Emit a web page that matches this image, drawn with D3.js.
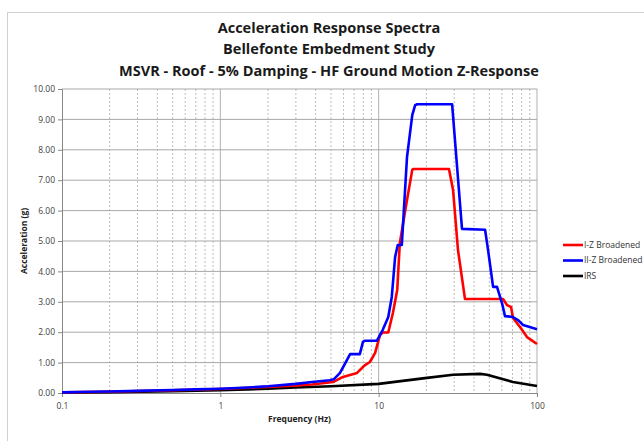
<!DOCTYPE html>
<html>
<head>
<meta charset="utf-8">
<script src="https://cdn.jsdelivr.net/npm/d3@7"></script>
<style>
  body { margin: 0; background: #fff; }
  text { font-family: "Open Sans", "Liberation Sans", sans-serif; }
</style>
</head>
<body>
<div id="chart"></div>
<script>
// chart titles
const titles = ["Acceleration Response Spectra",
                "Bellefonte Embedment Study",
                "MSVR - Roof - 5% Damping - HF Ground Motion Z-Response"];

// series: [frequency Hz, acceleration g]
const iZBroadened = [[0.1,0.02],[0.2,0.04],[0.5,0.09],[1,0.13],[2,0.2],[3,0.25],[3.8,0.28],
  [5.15,0.36],[5.95,0.53],[7.3,0.66],[8.2,0.92],[8.8,1.02],[9.5,1.32],[10.2,1.91],[10.6,1.99],
  [11.5,1.99],[12.3,2.63],[13.1,3.39],[13.6,4.93],[15.1,6.35],[16.3,7.34],[16.5,7.37],[27.8,7.37],
  [29.5,6.68],[31.7,4.7],[35.1,3.09],[61,3.09],[64.7,2.89],[68.6,2.83],[70.5,2.47],[78.1,2.17],
  [86.5,1.84],[100,1.61]];
const iiZBroadened = [[0.1,0.02],[0.15,0.04],[0.2,0.05],[0.3,0.07],[0.5,0.1],[0.7,0.12],[1,0.14],
  [1.5,0.18],[2,0.22],[3,0.3],[3.8,0.36],[4.9,0.42],[5.2,0.45],[5.7,0.66],[6.3,1.08],[6.6,1.28],
  [7.6,1.28],[7.96,1.68],[8.2,1.72],[9.75,1.72],[10.6,2.07],[11.5,2.5],[12.1,3.16],[12.7,4.47],
  [13.2,4.87],[14.0,4.87],[15.1,7.76],[16.3,9.14],[17.0,9.47],[17.5,9.5],[29.1,9.5],[33.6,5.4],
  [47,5.37],[49.1,4.7],[52.8,3.49],[55.9,3.49],[60.1,2.96],[62.8,2.53],[70.5,2.5],[75.8,2.4],
  [81.6,2.24],[100,2.1]];
const irs = [[0.1,0.01],[0.2,0.03],[0.5,0.06],[1,0.09],[2,0.14],[3,0.18],[5,0.22],[10,0.3],
  [19.6,0.49],[29.5,0.6],[43.7,0.63],[48.3,0.6],[70.5,0.36],[100,0.23]];

const seriesNames = ["I-Z Broadened", "II-Z Broadened", "IRS"];
const seriesColors = ["#ff0000", "#0000ff", "#000000"];
const xTickValues = [0.1, 1, 10, 100];
const xTickLabels = ["0.1", "1", "10", "100"];
const yTickValues = [0,1,2,3,4,5,6,7,8,9,10];

const W = 644, H = 441;
const margin = {top: 89, right: 107, bottom: 48, left: 62},
  width = W - margin.left - margin.right,
  height = H - margin.top - margin.bottom;

const svg = d3.select("#chart").append("svg")
  .attr("width", W).attr("height", H);

// outer chart border
svg.append("rect")
  .attr("x", 7.5).attr("y", 12.5)
  .attr("width", 660).attr("height", 460)
  .attr("fill", "none").attr("stroke", "#d0d0d0");

// titles: one size for all, fitted so the long line matches the picture
const titleY = [33, 54, 76];
const titleText = svg.selectAll(".title").data(titles).join("text")
  .attr("class", "title")
  .attr("x", 329).attr("y", (d, i) => titleY[i])
  .attr("text-anchor", "middle")
  .style("font-weight", "bold").style("font-size", "16px")
  .attr("fill", "#1a1a1a")
  .text(d => d);
const longLen = titleText.nodes()[2].getComputedTextLength();
titleText.style("font-size", (16 * 420 / longLen).toFixed(2) + "px");

const g = svg.append("g").attr("transform", `translate(${margin.left},${margin.top})`);

const x = d3.scaleLog().domain([0.1, 100]).range([0, width]);
const y = d3.scaleLinear().domain([0, 10]).range([height, 0]);

// vertical grid: minor dashed, decades solid
const minor = [];
for (let d = 0.1; d < 100; d *= 10)
  for (let k = 2; k <= 9; k++) minor.push(+(d * k).toPrecision(3));
g.append("g").selectAll("line").data(minor).join("line")
  .attr("x1", d => x(d)).attr("x2", d => x(d))
  .attr("y1", 0).attr("y2", height)
  .attr("stroke", "#bdbdbd").attr("stroke-dasharray", "2,2");
g.append("g").selectAll("line").data([1, 10, 100]).join("line")
  .attr("x1", d => x(d)).attr("x2", d => x(d))
  .attr("y1", 0).attr("y2", height)
  .attr("stroke", "#b0b0b0");

// horizontal grid
g.append("g").selectAll("line").data(yTickValues.slice(1)).join("line")
  .attr("x1", 0).attr("x2", width)
  .attr("y1", d => y(d)).attr("y2", d => y(d))
  .attr("stroke", "#a8a8a8");

// axes
const yAxis = g.append("g")
  .call(d3.axisLeft(y).tickValues(yTickValues).tickFormat(d3.format(".2f")).tickSize(4).tickPadding(3));
const xAxis = g.append("g").attr("transform", `translate(0,${height})`)
  .call(d3.axisBottom(x).tickValues(xTickValues).tickFormat((d, i) => xTickLabels[i]).tickSize(4).tickPadding(6));
[yAxis, xAxis].forEach(a => {
  a.select(".domain").attr("stroke", "#888");
  a.selectAll(".tick line").attr("stroke", "#888");
  a.selectAll(".tick text").attr("fill", "#404040")
    .style("font-size", "8.5px").style("font-family", "Open Sans, sans-serif");
});

// axis titles
svg.append("text")
  .attr("x", margin.left + width / 2).attr("y", 422)
  .attr("text-anchor", "middle")
  .style("font-weight", "bold").style("font-size", "8.5px").attr("fill", "#222")
  .text("Frequency (Hz)");
svg.append("text")
  .attr("transform", `translate(27,${margin.top + height / 2}) rotate(-90)`)
  .attr("text-anchor", "middle")
  .style("font-weight", "bold").style("font-size", "8.5px").attr("fill", "#222")
  .text("Acceleration (g)");

// curves
const line = d3.line().x(d => x(d[0])).y(d => y(d[1]));
const allSeries = [iZBroadened, iiZBroadened, irs];
// draw IRS below, then red, then blue on top like the picture
[2, 0, 1].forEach(i => {
  g.append("path")
    .datum(allSeries[i])
    .attr("fill", "none")
    .attr("stroke", seriesColors[i])
    .attr("stroke-width", 2.6)
    .attr("stroke-linejoin", "round")
    .attr("d", line);
});

// legend
const legend = svg.append("g").attr("transform", "translate(563,245)");
seriesNames.forEach((n, i) => {
  const row = legend.append("g").attr("transform", `translate(0,${i * 15.5})`);
  row.append("line").attr("x1", 0).attr("x2", 20)
    .attr("stroke", seriesColors[i]).attr("stroke-width", 2.6);
  row.append("text").attr("x", 21).attr("dy", "0.35em")
    .style("font-size", "8.5px").attr("fill", "#333").text(n);
});
</script>
</body>
</html>
